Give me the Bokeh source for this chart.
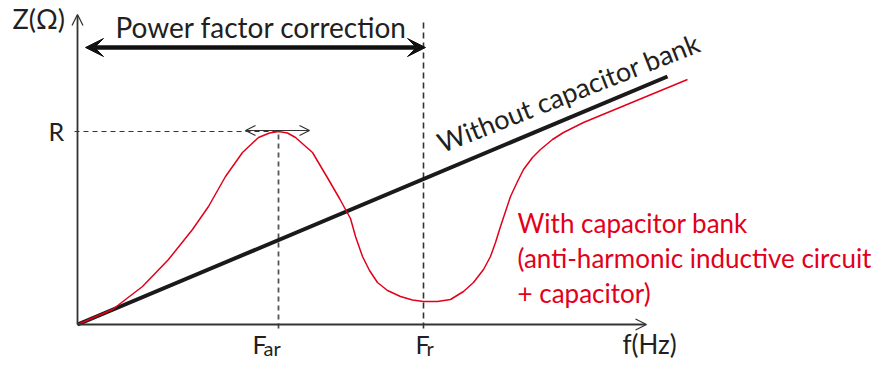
from bokeh.plotting import figure
from bokeh.models import Range1d, Arrow, OpenHead, VeeHead
from bokeh.core.properties import value
from bokeh.embed import file_html
from bokeh.resources import INLINE
import math

# ---- data (f in arbitrary frequency units, Z in arbitrary impedance units) ----
f_ar = 201
f_r = 346
z_R = 193
f_axis_max = 569
z_axis_max = 310

# "Without capacitor bank" straight line
line_f = [0, 590]
line_z = [0, 248]

# "With capacitor bank" curve
curve_f = [0, 35, 65, 91, 115, 131, 148, 165, 181, 192, 201, 210, 218, 235, 251,
           262, 268, 273, 278, 285, 292, 300, 310, 323, 335, 346, 360, 373, 386,
           396, 406, 413, 418, 423, 428, 433, 440, 446, 455, 463, 475, 486, 506, 610]
curve_z = [0, 15, 38, 65, 95, 118, 148, 172, 187, 191.5, 193, 191.5, 187, 172, 145,
           126, 115, 106, 88, 68, 54, 42, 34, 28, 24.5, 23, 23, 25, 33,
           42, 55, 68, 82, 98, 113, 128, 143, 155, 167, 175, 185, 192, 202, 245]

pfc_f = [5, 346]      # power factor correction arrow span
pfc_z = 277
band_f = [168, 232]   # small double arrow around the resonance peak

red = "#e2001a"
ink = "#231f20"
font = "Lato"

p = figure(width=878, height=361, output_backend="svg", toolbar_location=None,
           x_range=Range1d(-77, 801), y_range=Range1d(-37, 324),
           min_border=0)
p.min_border_left = p.min_border_right = p.min_border_top = p.min_border_bottom = 0
p.axis.visible = False
p.grid.visible = False
p.outline_line_color = None
p.background_fill_color = "white"
p.border_fill_color = "white"

# axes with open arrow heads
p.add_layout(Arrow(end=OpenHead(size=11, line_color="#333333", line_width=1.3),
                   x_start=0, y_start=0, x_end=0, y_end=z_axis_max,
                   line_color="#333333", line_width=1.8))
p.add_layout(Arrow(end=OpenHead(size=11, line_color="#333333", line_width=1.3),
                   x_start=0, y_start=0, x_end=f_axis_max, y_end=0,
                   line_color="#333333", line_width=1.8))

# dashed guide lines
p.line([-3, f_ar], [z_R, z_R], line_color="#333333", line_width=1.2, line_dash="5 4")
p.line([f_ar, f_ar], [-4, z_R], line_color="#555555", line_width=1.8, line_dash="5 4")
p.line([f_r, f_r], [-4, 304], line_color="#333333", line_width=1.6, line_dash="6 4")

# curves
p.line(line_f, line_z, line_color="#1a1a1a", line_width=4)
p.line(curve_f, curve_z, line_color=red, line_width=1.5)

# power factor correction arrow (thick, both heads)
p.add_layout(Arrow(start=VeeHead(size=18, fill_color="#111111", line_color="#111111"),
                   end=VeeHead(size=18, fill_color="#111111", line_color="#111111"),
                   x_start=pfc_f[0] + 3, y_start=pfc_z, x_end=pfc_f[1] + 2, y_end=pfc_z,
                   line_color="#111111", line_width=4.5))

# small double arrow at the peak
p.add_layout(Arrow(start=OpenHead(size=10, line_color="#333333", line_width=1.2),
                   end=OpenHead(size=10, line_color="#333333", line_width=1.2),
                   x_start=band_f[0], y_start=z_R + 1, x_end=band_f[1], y_end=z_R + 1,
                   line_color="#333333", line_width=1.2))

def txt(x, y, s, size=26, color=ink, align="left", angle=0.0):
    p.text(x=[x], y=[y], text=[s], text_font=value(font), text_font_size=f"{size}px",
           text_color=color, text_align=align, text_baseline="middle", angle=angle)

txt(-65, 306.4, "Z(Ω)", size=27)
txt(38, 297.7, "Power factor correction", size=28)
txt(-29, 193.5, "R", size=25)
txt(175, -19, "F", size=25)
txt(186, -23, "ar", size=20)
txt(338, -19, "F", size=25)
txt(349, -23, "r", size=20)
txt(545, -19, "f(Hz)", size=26)
txt(361, 181, "Without capacitor bank", size=27, angle=math.radians(21.5))
txt(440, 102, "With capacitor bank", size=26, color=red)
txt(440, 67, "(anti-harmonic inductive circuit", size=26, color=red)
txt(440, 32, "+ capacitor)", size=26, color=red)

open("out.html", "w").write(file_html(p, INLINE))
